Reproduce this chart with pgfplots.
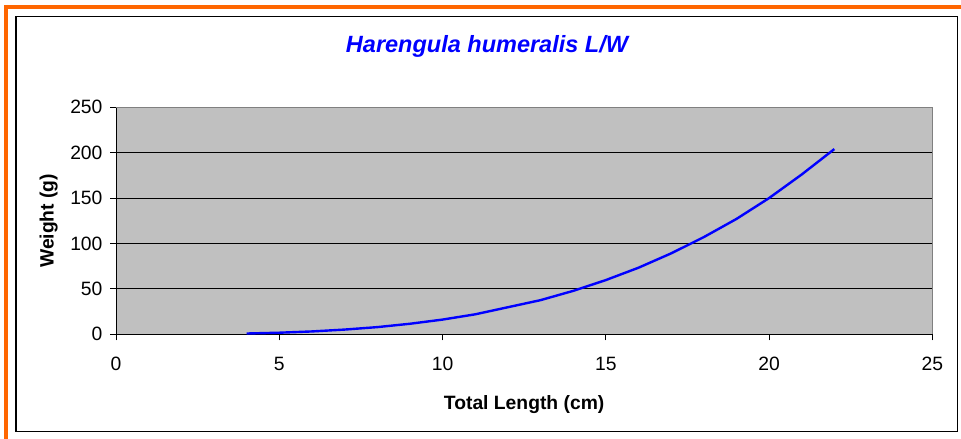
\documentclass[border=0pt]{standalone}
\usepackage{pgfplots}
\pgfplotsset{compat=1.18}
\usepackage{fontspec}
\setmainfont{Liberation Sans}
\definecolor{plotbg}{RGB}{192,192,192}
\definecolor{frameorange}{RGB}{255,102,0}
\definecolor{graybord}{RGB}{128,128,128}
\begin{document}
\begin{tikzpicture}[x=1pt,y=1pt]
\useasboundingbox (0,0) rectangle (961,439);
\draw[frameorange,line width=4pt] (4,432) -- (961,432);
\draw[frameorange,line width=4pt] (6,434) -- (6,0);
\draw[black,line width=1.4pt] (16,422.3) rectangle (957.3,7.3);
\begin{axis}[
  at={(116pt,104.7pt)}, anchor=south west,
  scale only axis, width=816.3pt, height=227pt,
  xmin=0, xmax=25, ymin=0, ymax=250,
  xtick={0,5,10,15,20,25}, ytick={0,50,100,150,200,250},
  axis x line*=bottom, axis y line*=left,
  axis line style={black,line width=1pt,-},
  tick align=outside, major tick length=6pt,
  tick style={black,line width=0.9pt},
  ymajorgrids, major grid style={black,line width=0.9pt},
  axis background/.style={fill=plotbg},
  /pgf/number format/assume math mode=true,
  tick label style={font=\fontsize{19.3}{22}\selectfont},
  xticklabel style={yshift=-13pt},
  yticklabel style={xshift=-4pt},
  label style={font=\bfseries\fontsize{19.3}{22}\selectfont},
  xlabel={Total Length (cm)},
  xlabel style={at={(axis description cs:0.5,-0.3115)},anchor=center},
  ylabel={Weight (g)},
  ylabel style={at={(axis description cs:-0.0825,0.5)},anchor=center},
  clip=false,
]
\draw[graybord,line width=1.5pt] (rel axis cs:0,1) -- (rel axis cs:1,1) -- (rel axis cs:1,0);
\addplot[blue,line width=2.4pt,mark=none] coordinates {
(4,0.86) (5,1.75) (6,3.15) (7,5.2) (8,7.9) (9,11.6) (10,16.2) (11,22)
(13,37.6) (14,47.8) (15,59.7) (16,73.3) (17,89.1) (18,107)
(19,127) (20,150) (21,176) (22,204)
};
\end{axis}
\node[font=\bfseries\itshape\fontsize{23.5}{27}\selectfont,text=blue] at (487,393) {Harengula humeralis L/W};
\end{tikzpicture}
\end{document}
